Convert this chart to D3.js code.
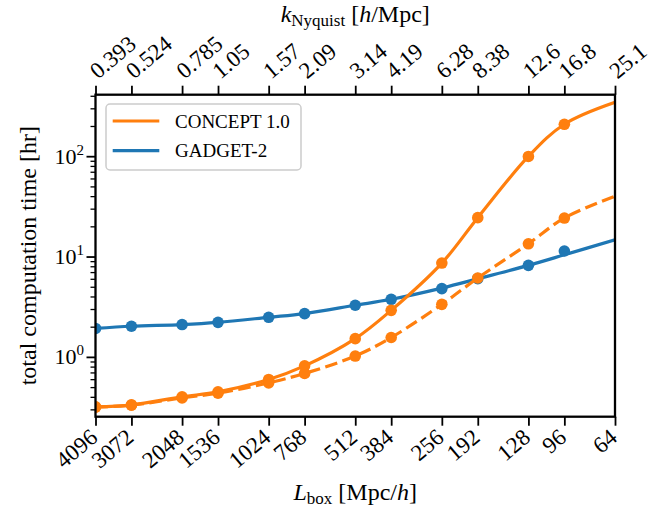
<!DOCTYPE html>
<html>
<head>
<meta charset="utf-8">
<script src="https://cdn.jsdelivr.net/npm/d3@7"></script>
<style>
  body { margin: 0; background: #fff; }
  svg { display: block; }
  text { font-family: "Liberation Serif", "DejaVu Serif", serif; fill: #000; }
</style>
</head>
<body>
<svg id="chart" width="671" height="514"></svg>
<script>
// Box sizes (Mpc/h) on the bottom axis, from large to small
const boxSizes = [4096, 3072, 2048, 1536, 1024, 768, 512, 384, 256, 192, 128, 96, 64];
// Matching Nyquist wavenumbers (h/Mpc) shown on the top axis
const kNyquistLabels = ["0.393", "0.524", "0.785", "1.05", "1.57", "2.09", "3.14", "4.19", "6.28", "8.38", "12.6", "16.8", "25.1"];
// Box sizes at which runs were timed
const runSizes = [4096, 3072, 2048, 1536, 1024, 768, 512, 384, 256, 192, 128, 96];

// Measured wall-clock times [hr]
const conceptTime    = [0.318, 0.333, 0.400, 0.449, 0.596, 0.814, 1.52, 2.91, 8.61, 24.4, 99.4, 208];
const conceptAltTime = [0.316, 0.330, 0.390, 0.435, 0.551, 0.684, 1.02, 1.56, 3.34, 6.11, 13.4, 24.2];
const gadgetTime     = [1.92, 2.02, 2.10, 2.21, 2.48, 2.70, 3.27, 3.75, 4.79, 6.03, 8.17, 11.35];

// Smooth trend curves through all box sizes [hr]
const conceptCurve    = [0.318, 0.333, 0.400, 0.449, 0.596, 0.814, 1.52, 2.91, 8.61, 24.4, 99.4, 208, 344];
const conceptAltCurve = [0.316, 0.330, 0.390, 0.435, 0.551, 0.684, 1.02, 1.56, 3.34, 6.11, 13.4, 24.2, 40.0];
const gadgetCurve     = [1.92, 2.02, 2.10, 2.21, 2.48, 2.70, 3.27, 3.75, 4.85, 6.00, 8.17, 10.4, 14.7];

const seriesNames = ["CONCEPT 1.0", "GADGET-2"];
const orange = "#ff7f0e", blue = "#1f77b4";

const svg = d3.select("#chart");
const plot = { left: 95.5, right: 615, top: 94.7, bottom: 416.7 };

const x = d3.scaleLog().base(2).domain([4096, 64]).range([plot.left, plot.right]);
const y = d3.scaleLog().domain([0.2535, 410]).range([plot.bottom, plot.top]);

svg.append("defs").append("clipPath").attr("id", "plotClip")
  .append("rect")
  .attr("x", plot.left).attr("y", plot.top)
  .attr("width", plot.right - plot.left).attr("height", plot.bottom - plot.top);

// ---- data layers ----
const layer = svg.append("g").attr("clip-path", "url(#plotClip)");
const line = d3.line().x(d => x(d[0])).y(d => y(d[1])).curve(d3.curveCatmullRom.alpha(0.5));

function drawSeries(curve, points, color, dashed) {
  layer.append("path")
    .datum(boxSizes.map((L, i) => [L, curve[i]]))
    .attr("d", line)
    .attr("fill", "none")
    .attr("stroke", color)
    .attr("stroke-width", 3.2)
    .attr("stroke-dasharray", dashed ? "12.5,5.5" : null);
  layer.selectAll(null)
    .data(runSizes.map((L, i) => [L, points[i]]))
    .enter().append("circle")
    .attr("cx", d => x(d[0])).attr("cy", d => y(d[1]))
    .attr("r", 5.8)
    .attr("fill", color);
}
drawSeries(gadgetCurve, gadgetTime, blue, false);
drawSeries(conceptAltCurve, conceptAltTime, orange, true);
drawSeries(conceptCurve, conceptTime, orange, false);

// ---- axes ----
const tickFont = 23;

// bottom axis
const gx = svg.append("g").attr("transform", `translate(0,${plot.bottom})`)
  .call(d3.axisBottom(x).tickValues(boxSizes).tickFormat(d => String(d)).tickSize(9).tickSizeOuter(0));
gx.select(".domain").remove();
gx.selectAll(".tick line").attr("stroke", "#000").attr("stroke-width", 1.8);
gx.selectAll(".tick text")
  .attr("x", null).attr("y", null).attr("dy", null)
  .attr("text-anchor", "end")
  .attr("font-size", tickFont)
  .attr("transform", "translate(3,23) rotate(-40)");

// top axis
const gt = svg.append("g").attr("transform", `translate(0,${plot.top})`)
  .call(d3.axisTop(x).tickValues(boxSizes).tickFormat((d, i) => kNyquistLabels[i]).tickSize(9).tickSizeOuter(0));
gt.select(".domain").remove();
gt.selectAll(".tick line").attr("stroke", "#000").attr("stroke-width", 1.8);
gt.selectAll(".tick text")
  .attr("x", null).attr("y", null).attr("dy", null)
  .attr("text-anchor", "start")
  .attr("font-size", tickFont)
  .attr("transform", "translate(2,-15) rotate(-40)");

// left axis: minor ticks
const minorVals = [];
for (let e = -1; e <= 2; e++) for (let m = 2; m <= 9; m++) {
  const v = m * Math.pow(10, e);
  if (v >= y.domain()[0] && v <= y.domain()[1] * 1.001) minorVals.push(v);
}
const gyMinor = svg.append("g").attr("transform", `translate(${plot.left},0)`)
  .call(d3.axisLeft(y).tickValues(minorVals).tickFormat("").tickSize(5).tickSizeOuter(0));
gyMinor.select(".domain").remove();
gyMinor.selectAll(".tick line").attr("stroke", "#000").attr("stroke-width", 1.3);

// left axis: decades
const majorVals = [1, 10, 100];
const gy = svg.append("g").attr("transform", `translate(${plot.left},0)`)
  .call(d3.axisLeft(y).tickValues(majorVals).tickFormat("").tickSize(9).tickSizeOuter(0));
gy.select(".domain").remove();
gy.selectAll(".tick line").attr("stroke", "#000").attr("stroke-width", 1.8);
gy.selectAll(".tick").each(function(d) {
  const t = d3.select(this).append("text")
    .attr("x", -41).attr("y", 7)
    .attr("text-anchor", "start")
    .attr("font-size", 22);
  t.append("tspan").text("10");
  t.append("tspan").attr("dy", -9).attr("font-size", 15).text(String(Math.round(Math.log10(d))));
});

// frame
svg.append("rect")
  .attr("x", plot.left).attr("y", plot.top)
  .attr("width", plot.right - plot.left).attr("height", plot.bottom - plot.top)
  .attr("fill", "none").attr("stroke", "#000").attr("stroke-width", 2.3);

// ---- axis titles ----
const labelFont = 24;
const xl = svg.append("text").attr("x", (plot.left + plot.right) / 2).attr("y", 500)
  .attr("text-anchor", "middle").attr("font-size", labelFont);
xl.append("tspan").attr("font-style", "italic").text("L");
xl.append("tspan").attr("font-size", 17).attr("dy", 4).text("box");
xl.append("tspan").attr("dy", -4).text(" [Mpc/");
xl.append("tspan").attr("font-style", "italic").text("h");
xl.append("tspan").text("]");

const tl = svg.append("text").attr("x", (plot.left + plot.right) / 2).attr("y", 22)
  .attr("text-anchor", "middle").attr("font-size", labelFont);
tl.append("tspan").attr("font-style", "italic").text("k");
tl.append("tspan").attr("font-size", 17).attr("dy", 4).text("Nyquist");
tl.append("tspan").attr("dy", -4).text(" [");
tl.append("tspan").attr("font-style", "italic").text("h");
tl.append("tspan").text("/Mpc]");

svg.append("text")
  .attr("transform", `translate(36,${(plot.top + plot.bottom) / 2}) rotate(-90)`)
  .attr("text-anchor", "middle").attr("font-size", labelFont)
  .text("total computation time [hr]");

// ---- legend ----
const lg = svg.append("g");
lg.append("rect").attr("x", 106).attr("y", 104).attr("width", 195).attr("height", 66)
  .attr("rx", 4).attr("fill", "#fff").attr("fill-opacity", 0.8)
  .attr("stroke", "#cccccc").attr("stroke-width", 1.5);
[orange, blue].forEach((c, i) => {
  const yy = 121 + i * 29.7;
  lg.append("line").attr("x1", 112.7).attr("x2", 159.3).attr("y1", yy).attr("y2", yy)
    .attr("stroke", c).attr("stroke-width", 3.2);
  lg.append("text").attr("x", 175).attr("y", yy + 6.5).attr("font-size", 19).text(seriesNames[i]);
});
</script>
</body>
</html>
